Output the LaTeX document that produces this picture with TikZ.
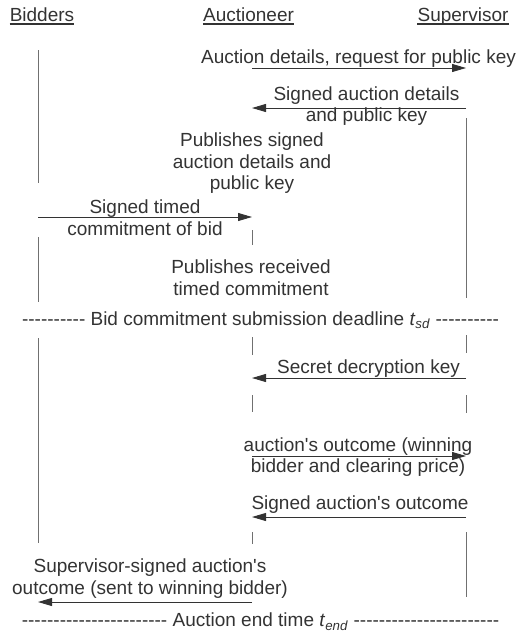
\documentclass[tikz,border=0pt]{standalone}
\usepackage{fontspec}
\setmainfont{Liberation Sans}[Ligatures=TeXOff]
\usetikzlibrary{arrows.meta}
\definecolor{ink}{HTML}{333333}
\definecolor{life}{HTML}{707070}
\newcommand\hyrun[1]{\foreach\i in {1,...,#1}{\mbox{-}}}
\newcommand\tsub[1]{\textit{t}\textsubscript{\textit{#1}}}
\begin{document}
\begin{tikzpicture}[x=1pt,y=-1pt,
  lbl/.style={inner sep=0pt, align=center, text=ink, font=\fontsize{19}{21.5}\selectfont},
  hdr/.style={lbl, anchor=base},
  uline/.style={draw=ink, line width=1.2pt},
  msg/.style={draw=ink, line width=0.9pt, -{Triangle[length=14pt,width=8pt]}},
  lifeline/.style={draw=life, line width=1pt}]
\useasboundingbox (0,0) rectangle (518,637);

% headers
\node[hdr] (hb) at (42,21) {Bidders};
\node[hdr] (ha) at (248.5,21) {Auctioneer};
\node[hdr] (hs) at (463,21) {Supervisor};
\foreach \h in {hb,ha,hs}
  \draw[uline] ([yshift=-3pt]\h.base west) -- ([yshift=-3pt]\h.base east);

% lifelines
\foreach \a/\b in {50/183, 237/302, 338/543}
  \draw[lifeline] (38,\a) -- (38,\b);
\foreach \a/\b in {230/245, 337/355, 395/412, 532/544}
  \draw[lifeline] (252,\a) -- (252,\b);
\foreach \a/\b in {118/298, 335/353, 395/413, 532/597}
  \draw[lifeline] (466,\a) -- (466,\b);

% message end points
\coordinate (a1) at (252,68);  \coordinate (s1) at (466,68);
\coordinate (a2) at (252,108); \coordinate (s2) at (466,108);
\coordinate (b4) at (38,217);  \coordinate (a4) at (252,217);
\coordinate (a7) at (252,378); \coordinate (s7) at (466,378);
\coordinate (a8) at (252,456); \coordinate (s8) at (466,456);
\coordinate (a9) at (252,517); \coordinate (s9) at (466,517);
\coordinate (a10) at (252,602); \coordinate (b10) at (38,602);

% labels
\node[lbl] (t1) at (358.5,58.5) {Auction details, request for public key};
\node[lbl] (t2) at (366.5,106) {Signed auction details\\and public key};
\node[lbl] (t3) at (252,163.4) {Publishes signed\\auction details and\\public key};
\node[lbl] (t4) at (145,217.5) {Signed timed\\commitment of bid};
\node[lbl] (t5) at (251,277.5) {Publishes received\\timed commitment};
\node[lbl, anchor=base] (t6) at (260.5,325) {\hyrun{10} Bid commitment submission deadline \tsub{sd} \hyrun{10}};
\node[lbl] (t7) at (368.5,368.3) {Secret decryption key};
\node[lbl] (t8) at (358,457.2) {auction's outcome (winning\\bidder and clearing price)};
\node[lbl] (t9) at (360,504.3) {Signed auction's outcome};
\node[lbl] (t10) at (150,578.4) {Supervisor-signed auction's\\outcome (sent to winning bidder)};
\node[lbl, anchor=base] (t11) at (260.5,626.7) {\hyrun{23} Auction end time \tsub{end} \hyrun{23}};

% messages
\draw[msg] (a1) -- (s1);
\draw[msg] (s2) -- (a2);
\draw[msg] (b4) -- (a4);
\draw[msg] (s7) -- (a7);
\draw[msg] (a8) -- (s8);
\draw[msg] (s9) -- (a9);
\draw[msg] (a10) -- (b10);
\end{tikzpicture}
\end{document}
